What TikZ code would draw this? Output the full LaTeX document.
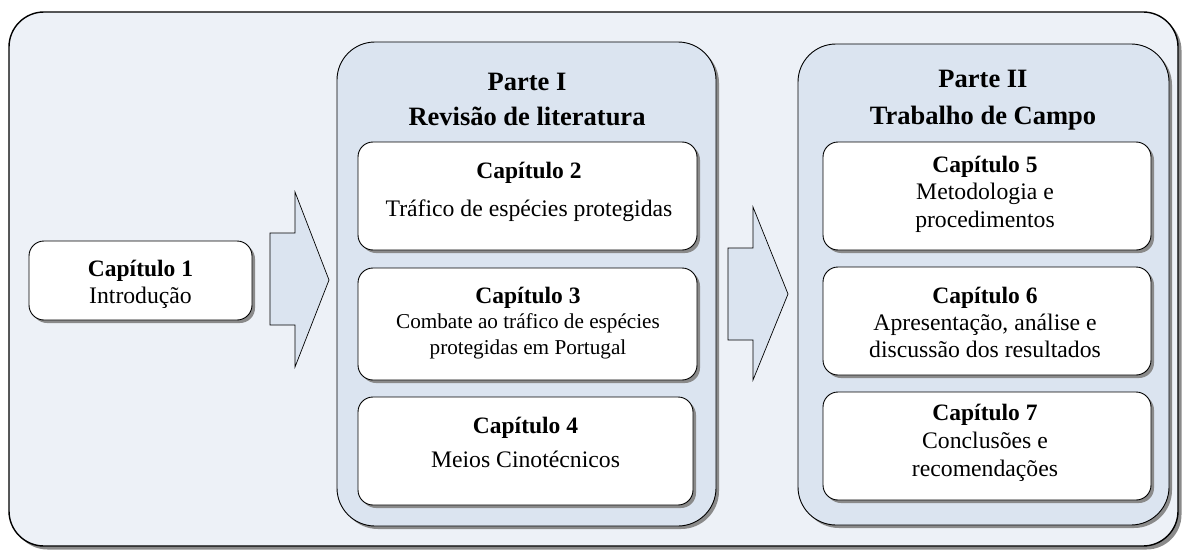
\documentclass[tikz,border=0pt]{standalone}
\usepackage{fontspec}
\setmainfont{Liberation Serif}
\usetikzlibrary{shadows}
\definecolor{outerfill}{HTML}{EDF1F7}
\definecolor{partfill}{HTML}{DBE4F0}
\definecolor{shadowgray}{HTML}{8A8A8A}
\tikzset{
  shad/.style={drop shadow={shadow xshift=#1,shadow yshift=-#1,fill=shadowgray,opacity=1}},
  outerbox/.style={draw=black,line width=1.4pt,fill=outerfill,rounded corners=35pt,shad=3.5pt,inner sep=0pt},
  partbox/.style={draw=black,line width=0.9pt,fill=partfill,rounded corners=38pt,shad=3pt,inner sep=0pt},
  capbox/.style={draw=black,line width=0.9pt,fill=white,rounded corners=15pt,shad=3pt,inner sep=0pt},
  blockarrow/.style={draw=black,line width=0.7pt,fill=partfill,line join=miter},
  txtbase/.style={anchor=base,inner sep=0pt},
  ttltxt/.style={txtbase,font=\bfseries\fontsize{26.5}{30}\selectfont},
  captxt/.style={txtbase,font=\bfseries\fontsize{23.5}{28}\selectfont},
  bodytxt/.style={txtbase,font=\fontsize{23.7}{28}\selectfont},
  smalltxt/.style={txtbase,font=\fontsize{21.2}{26}\selectfont},
}
\begin{document}
\begin{tikzpicture}[x=1pt,y=-1pt]
\useasboundingbox (0,0) rectangle (1185,551);
% outer frame
\node[outerbox,minimum width=1169pt,minimum height=534pt] (outer) at (593.5,279) {};
% parts
\node[partbox,minimum width=379pt,minimum height=484pt] (part1) at (526.5,284) {};
\node[partbox,minimum width=371pt,minimum height=481pt] (part2) at (983.5,284.5) {};
% chapter boxes
\node[capbox,minimum width=223pt,minimum height=79pt] (cap1) at (140.5,280.5) {};
\node[capbox,minimum width=339pt,minimum height=108pt] (cap2) at (527.5,196) {};
\node[capbox,minimum width=339pt,minimum height=112pt] (cap3) at (527.5,324) {};
\node[capbox,minimum width=335pt,minimum height=108pt] (cap4) at (525.5,451) {};
\node[capbox,minimum width=328pt,minimum height=108pt] (cap5) at (987,196) {};
\node[capbox,minimum width=328pt,minimum height=108pt] (cap6) at (987,321) {};
\node[capbox,minimum width=328pt,minimum height=108pt] (cap7) at (987,446) {};
% block arrows
\draw[blockarrow] (270,233) -- (295,233) -- (295,192) -- (329,280) -- (295,367) -- (295,325) -- (270,325) -- cycle;
\draw[blockarrow] (728,248) -- (753,248) -- (753,207) -- (788,294) -- (753,380) -- (753,340) -- (728,340) -- cycle;
% texts
\node[captxt]  (t1a) at (140.5,276) {Capítulo 1};
\node[bodytxt] (t1b) at (140.5,303) {Introdução};

\node[ttltxt] (p1a) at (527,90) {Parte I};
\node[ttltxt] (p1b) at (527,125.5) {Revisão de literatura};

\node[captxt]  (t2a) at (529,178) {Capítulo 2};
\node[bodytxt] (t2b) at (529,216) {Tráfico de espécies protegidas};

\node[captxt]   (t3a) at (528,303) {Capítulo 3};
\node[smalltxt] (t3b) at (528,328) {Combate ao tráfico de espécies};
\node[smalltxt] (t3c) at (528,354) {protegidas em Portugal};

\node[captxt]  (t4a) at (525.5,433) {Capítulo 4};
\node[bodytxt] (t4b) at (525.5,467) {Meios Cinotécnicos};

\node[ttltxt] (p2a) at (983,87) {Parte II};
\node[ttltxt] (p2b) at (983,124) {Trabalho de Campo};

\node[captxt]  (t5a) at (985,172) {Capítulo 5};
\node[bodytxt] (t5b) at (985,199) {Metodologia e};
\node[bodytxt] (t5c) at (985,227) {procedimentos};

\node[captxt]  (t6a) at (985,303) {Capítulo 6};
\node[bodytxt] (t6b) at (985,330) {Apresentação, análise e};
\node[bodytxt] (t6c) at (985,357.5) {discussão dos resultados};

\node[captxt]  (t7a) at (985,420) {Capítulo 7};
\node[bodytxt] (t7b) at (985,448) {Conclusões e};
\node[bodytxt] (t7c) at (985,476.5) {recomendações};
\end{tikzpicture}
\end{document}
